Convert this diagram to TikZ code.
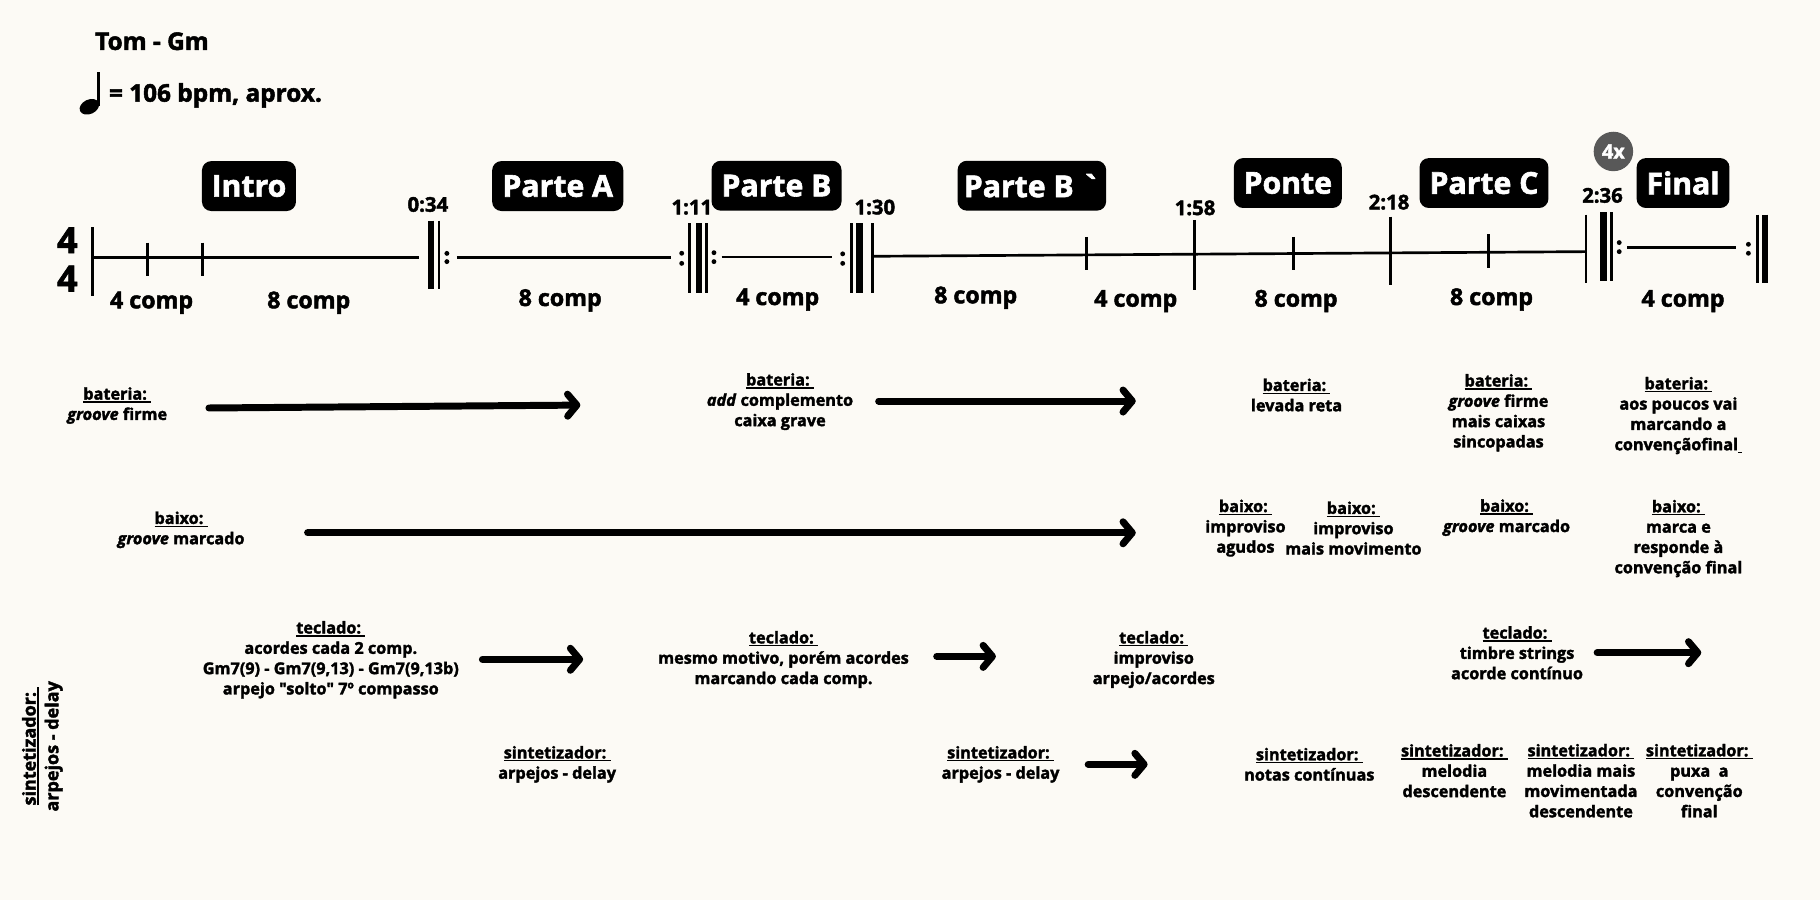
\documentclass[tikz,border=0pt]{standalone}
\usepackage{fontspec}
\setmainfont{Open Sans}[Ligatures=TeXOff,
  BoldFeatures={FakeBold=2}, BoldItalicFeatures={FakeBold=2}]
\usetikzlibrary{arrows.meta}
\definecolor{paper}{RGB}{252,250,245}
\definecolor{badge}{RGB}{88,88,88}
\newsavebox\ulbox
% underlined heading with a trailing space, as in the instrument labels
\newcommand\ul[1]{\sbox\ulbox{#1\ }\rlap{\rule[-2.6pt]{\wd\ulbox}{1.2pt}}\usebox\ulbox}
\newcommand\fs[2]{\fontsize{#1}{#2}\selectfont}

\begin{document}
\begin{tikzpicture}[x=1pt,y=-1pt,
  section/.style={fill=black, rounded corners=8pt, text=white,
    font=\fs{26}{26}\bfseries, minimum height=43pt, inner sep=0pt},
  headline/.style={font=\fs{21}{21}\bfseries, inner sep=0pt},
  timemark/.style={font=\fs{17.5}{17.5}\bfseries, anchor=base, inner sep=0pt},
  comp/.style={font=\fs{20}{20}\bfseries, anchor=base, inner sep=0pt},
  meter/.style={font=\fs{31}{31}\bfseries, inner sep=0pt},
  note/.style={font=\fs{14}{17.5}\bfseries, align=center, inner sep=0pt},
  sidenote/.style={font=\fs{15.5}{19.5}\bfseries, align=center, inner sep=0pt},
  staff/.style={line width=2.3pt},
  thinbar/.style={line width=2.4pt},
  thickbar/.style={line width=5.4pt},
  flow/.style={line width=6pt, line cap=round,
    -{Straight Barb[length=8pt,width=19pt,round]}},
]
\fill[paper] (0,0) rectangle (1568,775);
\useasboundingbox (0,0) rectangle (1568,775);

% ---------- key and tempo ----------
\node[headline, anchor=base west] (key) at (81.8,43) {Tom - Gm};
\fill[rotate around={25:(77,92)}] (77,92) ellipse (8.8 and 6.2);
\draw[line width=2.2pt] (84.8,91) -- (84.8,61.7);
\node[headline, anchor=base west] (tempo) at (93.7,87.6) {= 106 bpm, aprox.};

% ---------- section badges ----------
\node[section, minimum width=81pt]  (intro)  at (214.5,160.3) {Intro};
\node[section, minimum width=113pt] (parteA) at (480.5,160.3) {Parte A};
\node[section, minimum width=112pt] (parteB) at (669,160)     {Parte B};
\node[section, minimum width=128pt] (parteBb) at (889,160)    {Parte B `};
\node[section, minimum width=93pt]  (ponte)  at (1109.5,157.7) {Ponte};
\node[section, minimum width=111pt] (parteC) at (1278.5,157.7) {Parte C};
\node[section, minimum width=80pt]  (final)  at (1450,157.7)  {Final};
\node[circle, fill=badge, text=white, minimum size=34pt, inner sep=0pt,
      font=\fs{17}{17}\bfseries] (times) at (1390,130.5) {4x};

% ---------- time signature ----------
\node[meter] (metertop) at (58,207) {4};
\node[meter] (meterbot) at (58,240) {4};

% ---------- time marks ----------
\node[timemark] (t034) at (368.6,182.4) {0:34};
\node[timemark] (t111) at (596,184.7)   {1:11};
\node[timemark] (t130) at (753.7,184.7) {1:30};
\node[timemark] (t158) at (1029.6,185.3) {1:58};
\node[timemark] (t218) at (1196.7,180.4) {2:18};
\node[timemark] (t236) at (1380.6,174.6) {2:36};

% ---------- staff ----------
% intro
\draw[thinbar] (79.4,196) -- (79.4,255);
\draw[staff] (79.4,222) -- (361,222);
\draw[staff] (127,209) -- (127,238);
\draw[staff] (174.5,209) -- (174.5,238);
% start repeat, parte A
\draw[thickbar] (371.3,190) -- (371.3,249);
\draw[thinbar] (378.2,190) -- (378.2,249);
\fill (385,218.3) circle (2.1) (385,225.4) circle (2.1);
\draw[staff] (393.6,221.6) -- (578,221.6);
% end/start repeat, parte B
\fill (587.3,218.2) circle (2.1) (587.3,226.9) circle (2.1);
\draw[thinbar] (593.9,192.4) -- (593.9,252.7);
\draw[thickbar] (602,192.4) -- (602,252.7);
\draw[thinbar] (608.8,192.4) -- (608.8,252.7);
\fill (615.1,217.7) circle (2.1) (615.1,225.4) circle (2.1);
\draw[staff] (621.7,221.3) -- (716.5,221.3);
% end repeat, parte B`
\fill (726,218.7) circle (2.1) (726,226.9) circle (2.1);
\draw[thinbar] (733.7,192.4) -- (733.7,252.7);
\draw[thickbar] (740.5,192.4) -- (740.5,252.7);
\draw[thinbar] (751.5,192.4) -- (751.5,252.7);
\draw[staff] (751.5,220.8) -- (1366.4,216.8);
\draw[staff] (936,204) -- (936,233);
\draw[thinbar] (1029,189.5) -- (1029,250);
\draw[staff] (1114.6,204) -- (1114.6,233);
\draw[thinbar] (1198,186.7) -- (1198,245.5);
\draw[staff] (1282.5,202) -- (1282.5,231);
\draw[thinbar] (1366.4,185) -- (1366.4,244);
% final repeat
\draw[thickbar] (1381.5,183) -- (1381.5,242);
\draw[thinbar] (1388.5,183) -- (1388.5,242);
\fill (1395,209) circle (2.1) (1395,216.8) circle (2.1);
\draw[staff] (1402,213) -- (1496,213);
\fill (1506.3,210.5) circle (2.1) (1506.3,218.2) circle (2.1);
\draw[thinbar] (1514,185) -- (1514,244);
\draw[thickbar] (1520.6,185) -- (1520.6,244);

% ---------- bar counts ----------
\node[comp] (c1) at (130.6,265.6) {4 comp};
\node[comp] (c2) at (266,265.6)   {8 comp};
\node[comp] (c3) at (482.6,263.6) {8 comp};
\node[comp] (c4) at (670,262.8)   {4 comp};
\node[comp] (c5) at (840.6,261.3) {8 comp};
\node[comp] (c6) at (978.5,264.2) {4 comp};
\node[comp] (c7) at (1116.6,264.2) {8 comp};
\node[comp] (c8) at (1285,262.8)  {8 comp};
\node[comp] (c9) at (1450,264.2)  {4 comp};

% ---------- drums ----------
\node[note] (dr1) at (101,349.4) {\ul{bateria:}\\\textit{groove} firme};
\node[note] (dr2) at (672,346) {\ul{bateria:}\\\textit{add} complemento\\caixa grave};
\node[note] (dr3) at (1117,340.3) {\ul{bateria:}\\levada reta};
\node[note] (dr4) at (1291,355.6) {\ul{bateria:}\\\textit{groove} firme\\mais caixas\\sincopadas};
\node[note] (dr5) at (1446,358) {\ul{bateria:}\\aos poucos vai\\marcando a\\convençãofinal\ul{}};

% ---------- bass ----------
\node[note] (bs1) at (156,456.5) {\ul{baixo:}\\\textit{groove} marcado};
\node[note] (bs2) at (1073,455) {\ul{baixo:}\\improviso\\agudos};
\node[note] (bs3) at (1166,455) {\ul{baixo:}\\improviso\\mais movimento};
\node[note] (bs4) at (1298,446) {\ul{baixo:}\\\textit{groove} marcado};
\node[note] (bs5) at (1446,464) {\ul{baixo:}\\marca e\\responde à\\convenção final};

% ---------- keys ----------
\node[note] (kb1) at (285,568.4) {\ul{teclado:}\\acordes cada 2 comp.\\Gm7(9) - Gm7(9,13) - Gm7(9,13b)\\arpejo "solto" 7º compasso};
\node[note] (kb2) at (675,568.2) {\ul{teclado:}\\mesmo motivo, porém acordes\\marcando cada comp.};
\node[note] (kb3) at (994,568.2) {\ul{teclado:}\\improviso\\arpejo/acordes};
\node[note] (kb4) at (1307,562.4) {\ul{teclado:}\\timbre strings\\acorde contínuo};

% ---------- synth ----------
\node[sidenote, rotate=90] (sy0) at (36.5,643) {\ul{sintetizador:}\\arpejos - delay};
\node[note] (sy1) at (480,658.5) {\ul{sintetizador:}\\arpejos - delay};
\node[note] (sy2) at (862,658.5) {\ul{sintetizador:}\\arpejos - delay};
\node[note] (sy3) at (1128,658.5) {\ul{sintetizador:}\\notas contínuas};
\node[note] (sy4) at (1253,664) {\ul{sintetizador:}\\melodia\\descendente};
\node[note] (sy5) at (1362,672.6) {\ul{sintetizador:}\\melodia mais\\movimentada\\descendente};
\node[note] (sy6) at (1464,672.6) {\ul{sintetizador:}\\puxa\ \ a\\convenção\\final};

% ---------- continuation arrows ----------
\coordinate (f1a) at (180,351.5);  \coordinate (f1b) at (500,349);
\coordinate (f2a) at (757,345.5);  \coordinate (f2b) at (978.5,345.5);
\coordinate (f3a) at (265,459);    \coordinate (f3b) at (978.5,459);
\coordinate (f4a) at (415.6,568);  \coordinate (f4b) at (502.4,568);
\coordinate (f5a) at (807,565.5);  \coordinate (f5b) at (858,565.5);
\coordinate (f6a) at (937.5,658.5); \coordinate (f6b) at (988.7,658.5);
\coordinate (f7a) at (1376,562.3); \coordinate (f7b) at (1465.7,562.3);
\foreach \s/\e in {f1a/f1b, f2a/f2b, f3a/f3b, f4a/f4b, f5a/f5b, f6a/f6b, f7a/f7b}
  \draw[flow] (\s) -- (\e);
\end{tikzpicture}
\end{document}
